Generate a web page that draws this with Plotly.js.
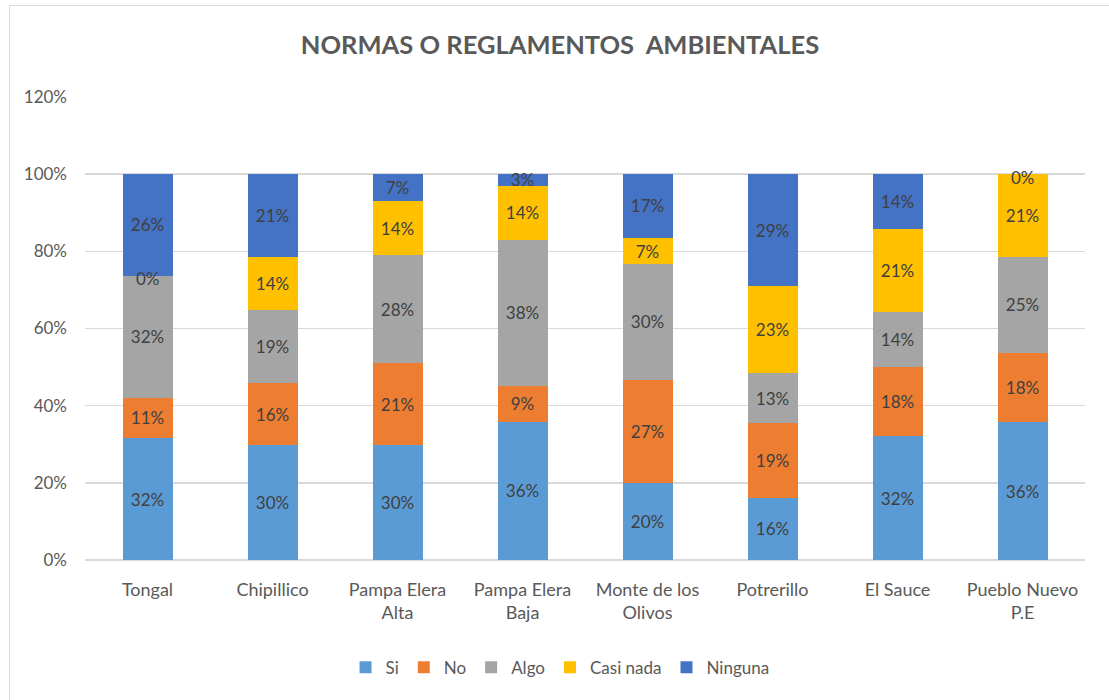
<!DOCTYPE html>
<html>
<head>
<meta charset="utf-8">
<script src="https://cdn.plot.ly/plotly-3.0.1.min.js"></script>
<style>
  html, body { margin: 0; padding: 0; background: #fff; }
  #wrap { position: relative; width: 1109px; height: 700px; }
  #chart { width: 1109px; height: 700px; }
  #frame { position: absolute; left: 9px; top: 5px; width: 1120px; height: 720px;
           border: 1.5px solid #d9d9d9; pointer-events: none; }
</style>
</head>
<body>
<div id="wrap">
  <div id="chart"></div>
  <div id="frame"></div>
</div>
<script>
// Data (fractions of respondents per community)
const categories = ["Tongal", "Chipillico", "Pampa Elera<br>Alta", "Pampa Elera<br>Baja",
                    "Monte de los<br>Olivos", "Potrerillo", "El Sauce", "Pueblo Nuevo<br>P.E"];
const si       = [0.316, 0.297, 0.297, 0.358, 0.200, 0.161, 0.321, 0.357];
const no       = [0.105, 0.162, 0.214, 0.094, 0.267, 0.194, 0.179, 0.179];
const algo     = [0.316, 0.189, 0.279, 0.377, 0.300, 0.129, 0.143, 0.250];
const casiNada = [0.000, 0.138, 0.140, 0.141, 0.067, 0.226, 0.214, 0.214];
const ninguna  = [0.263, 0.214, 0.070, 0.030, 0.167, 0.290, 0.143, 0.000];
const yTicks   = [0, 0.2, 0.4, 0.6, 0.8, 1.0, 1.2];

const seriesNames  = ["Si", "No", "Algo", "Casi nada", "Ninguna"];
const seriesValues = [si, no, algo, casiNada, ninguna];
const seriesColors = ["#5B9BD5", "#ED7D31", "#A5A5A5", "#FFC000", "#4472C4"];

const FONT = "Lato, 'Open Sans', sans-serif";

const traces = seriesNames.map((name, i) => ({
  type: "bar",
  name: name,
  x: categories,
  y: seriesValues[i],
  marker: { color: seriesColors[i], line: { width: 0 } },
  text: seriesValues[i].map(v => v > 0 ? Math.round(v * 100) + "%" : ""),
  textposition: "inside",
  insidetextanchor: "middle",
  textangle: 0,
  constraintext: "none",
  insidetextfont: { family: FONT, size: 17, color: "#404040" },
  hoverinfo: "x+y+name"
}));

// Labels for zero-height segments, placed at the stack boundary
const annotations = [];
categories.forEach((c, j) => {
  let cum = 0;
  seriesValues.forEach((vals) => {
    const v = vals[j];
    if (v === 0) {
      annotations.push({
        x: c, y: cum, xref: "x", yref: "y", text: "0%", showarrow: false,
        yanchor: "middle", yshift: -3,
        font: { family: FONT, size: 17, color: "#404040" }
      });
    }
    cum += v;
  });
});

const layout = {
  width: 1109, height: 700,
  margin: { l: 85, r: 24, t: 97, b: 140 },
  paper_bgcolor: "#ffffff",
  plot_bgcolor: "#ffffff",
  barmode: "stack",
  bargap: 0.6,
  font: { family: FONT, color: "#595959", size: 17 },
  title: {
    text: "<b>NORMAS O REGLAMENTOS  AMBIENTALES</b>",
    x: 0.505, xref: "container", y: 0.935, yref: "container", yanchor: "middle",
    font: { family: FONT, size: 25.5, color: "#595959" }
  },
  xaxis: {
    type: "category",
    showgrid: false,
    showline: false,
    ticks: "",
    tickfont: { family: FONT, size: 18, color: "#595959" },
    ticklabelstandoff: 17
  },
  yaxis: {
    range: [0, 1.2],
    tickvals: yTicks,
    ticktext: yTicks.map(v => Math.round(v * 100) + "%"),
    showgrid: true,
    gridcolor: "#d9d9d9",
    gridwidth: 1.5,
    zeroline: true,
    zerolinecolor: "#d9d9d9",
    zerolinewidth: 1.5,
    showline: false,
    ticks: "",
    tickfont: { family: FONT, size: 17, color: "#595959" },
    ticklabelstandoff: 17
  },
  legend: {
    orientation: "h",
    x: 0.505, xanchor: "center", xref: "container",
    y: 0.046, yanchor: "middle", yref: "container",
    font: { family: FONT, size: 17, color: "#595959" },
    traceorder: "normal",
    itemwidth: 30
  },
  annotations: annotations,
  showlegend: true
};

Plotly.newPlot("chart", traces, layout, { displayModeBar: false, staticPlot: true });
</script>
</body>
</html>
